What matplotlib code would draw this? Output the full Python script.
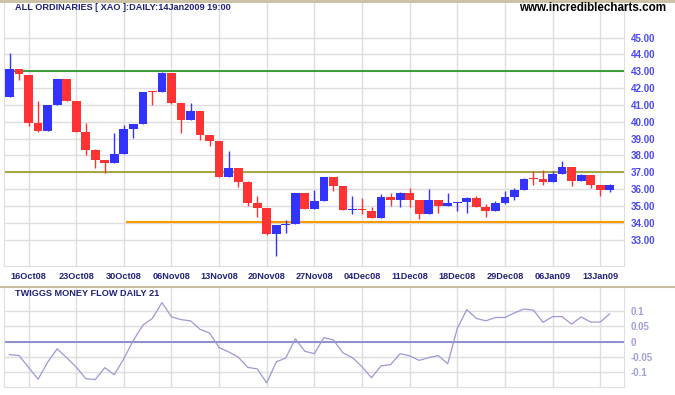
import matplotlib
matplotlib.use("Agg")
import matplotlib.pyplot as plt
import numpy as np
import pandas as pd
from matplotlib.lines import Line2D

# ---------------- data ----------------
holidays = ["2008-12-25", "2008-12-26", "2009-01-01"]
dates = [d for d in pd.bdate_range("2008-10-14", "2009-01-14") if d.strftime("%Y-%m-%d") not in holidays]

opens = [41.49, 43.14, 42.78, 39.93, 39.46, 41.00, 42.55, 41.24, 39.38, 38.31,
         37.73, 37.57, 38.09, 39.58, 39.87, 41.80, 41.76, 42.88, 41.12, 40.13,
         40.64, 39.22, 38.86, 36.74, 37.26, 36.44, 35.18, 34.88, 33.35, 33.88,
         33.95, 35.77, 34.82, 35.30, 36.72, 36.19, 34.74, 34.78, 34.69, 34.30,
         35.53, 35.37, 35.77, 35.36, 34.54, 35.36, 35.02, 35.20, 35.24, 35.48,
         34.94, 34.72, 35.18, 35.53, 35.95, 36.62, 36.60, 36.43, 36.90, 37.32,
         36.49, 36.84, 36.25, 35.95]
highs = [44.09, 43.14, 42.78, 41.24, 41.00, 42.55, 42.55, 41.24, 39.93, 38.38,
         37.73, 39.34, 39.81, 39.87, 41.77, 41.82, 42.98, 42.88, 41.12, 41.12,
         40.64, 39.22, 38.86, 38.27, 37.26, 36.48, 35.59, 34.88, 33.87, 34.17,
         35.77, 35.77, 35.95, 36.72, 36.72, 36.19, 35.59, 35.48, 34.94, 35.71,
         35.77, 35.83, 36.07, 35.36, 36.01, 35.36, 35.77, 35.24, 35.54, 35.59,
         35.12, 35.30, 35.89, 36.07, 36.66, 37.08, 37.14, 37.08, 37.67, 37.32,
         36.90, 36.84, 36.25, 36.31]
lows = [41.45, 42.50, 39.77, 39.40, 39.46, 41.00, 41.24, 39.40, 38.05, 37.28,
        36.98, 37.57, 38.09, 39.06, 39.87, 41.02, 41.76, 41.08, 39.36, 40.13,
        38.92, 38.58, 36.74, 36.74, 36.15, 35.02, 34.36, 33.30, 32.05, 33.41,
        33.95, 34.82, 34.82, 35.30, 35.89, 34.78, 34.51, 34.52, 34.30, 34.30,
        35.02, 34.96, 34.96, 34.25, 34.54, 34.60, 35.02, 34.70, 34.60, 34.96,
        34.36, 34.72, 35.12, 35.36, 35.95, 36.25, 36.25, 36.43, 36.90, 36.19,
        36.49, 36.07, 35.59, 35.84]
closes = [43.14, 42.83, 39.95, 39.46, 41.00, 42.55, 41.24, 39.40, 38.35, 37.73,
          37.57, 38.09, 39.58, 39.87, 41.77, 41.75, 42.88, 41.14, 40.13, 40.64,
          39.24, 38.88, 36.74, 37.26, 36.44, 35.20, 34.90, 33.35, 33.87, 33.93,
          35.77, 34.82, 35.30, 36.72, 36.21, 34.78, 34.77, 34.74, 34.30, 35.53,
          35.37, 35.77, 35.37, 34.54, 35.36, 35.02, 35.18, 35.23, 35.48, 34.96,
          34.72, 35.18, 35.53, 35.95, 36.60, 36.58, 36.43, 36.90, 37.32, 36.49,
          36.84, 36.25, 35.95, 36.25]

tmf = [-0.043, -0.046, -0.085, -0.124, -0.068, -0.024, -0.053, -0.084, -0.122, -0.125,
       -0.086, -0.109, -0.056, 0.004, 0.054, 0.076, 0.128, 0.081, 0.072, 0.068,
       0.040, 0.028, -0.020, -0.034, -0.051, -0.085, -0.090, -0.136, -0.067, -0.054,
       0.009, -0.032, -0.040, 0.013, 0.005, -0.037, -0.053, -0.083, -0.119, -0.080,
       -0.076, -0.040, -0.047, -0.062, -0.053, -0.046, -0.073, 0.043, 0.105, 0.076,
       0.068, 0.079, 0.079, 0.094, 0.107, 0.103, 0.063, 0.082, 0.082, 0.057,
       0.081, 0.064, 0.064, 0.091]

tick_dates = ["2008-10-16", "2008-10-23", "2008-10-30", "2008-11-06", "2008-11-13",
              "2008-11-20", "2008-11-27", "2008-12-04", "2008-12-11", "2008-12-18",
              "2008-12-29", "2009-01-06", "2009-01-13"]
price_ticks = [33, 34, 35, 36, 37, 38, 39, 40, 41, 42, 43, 44, 45]
tmf_ticks = [-0.1, -0.05, 0, 0.05, 0.1]
tmf_labels = ["-0.1", "-0.05", "0", "0.05", "0.1"]

green_level = 43.0
olive_level = 37.0
orange_level = 34.03
orange_start = "2008-10-30"

# ---------------- figure ----------------
W, H = 675, 395
fig = plt.figure(figsize=(W / 100, H / 100), dpi=100)
fig.patch.set_facecolor("white")

def fx(px):
    return px / W

def fy(py):
    return 1 - py / H

FONT = ["Liberation Sans", "DejaVu Sans"]
GRID = "#dedede"
date_str = [d.strftime("%Y-%m-%d") for d in dates]
x = np.arange(len(dates))
tick_idx = [date_str.index(t) for t in tick_dates]
tick_lbl = [dates[i].strftime("%d%b%y") for i in tick_idx]

ax = fig.add_axes([fx(4), fy(266), fx(624) - fx(4), fy(2) - fy(266)])
ax2 = fig.add_axes([fx(4), fy(387), fx(624) - fx(4), fy(288) - fy(387)])

xlim = (-0.58, 64.5)

for a in (ax, ax2):
    a.set_xlim(*xlim)
    a.set_xticks(tick_idx)
    a.grid(True, color=GRID, lw=1)
    a.set_axisbelow(True)
    for s in ("left", "right", "bottom"):
        a.spines[s].set_color(GRID)
    a.spines["top"].set_visible(False)
    a.yaxis.tick_right()
    a.tick_params(length=0)

# candles
o = np.array(opens); c = np.array(closes); h = np.array(highs); l = np.array(lows)
up = c >= o
colors = np.where(up, "#3333ff", "#ff3333")
body_bot = np.minimum(o, c)
body_h = np.maximum(np.abs(c - o), 0.06)
ax.vlines(x, l, h, colors=colors, lw=1, zorder=3)
ax.bar(x, body_h, bottom=body_bot, width=0.92, color=colors, linewidth=0, zorder=4)

ax.axhline(green_level, color="#1a8f1a", lw=1.2, zorder=2)
ax.axhline(olive_level, color="#999922", lw=1.2, zorder=2)
ax.hlines(orange_level, date_str.index(orange_start) + 0.26, xlim[1], color="#ff9900", lw=1.5, zorder=2)

ax.set_ylim(31.43, 47.12)
ax.set_yticks(price_ticks)
ax.set_yticklabels([f"{v:.2f}" for v in price_ticks], fontfamily=FONT, fontsize=7,
                   fontweight="bold", color="#4a4af0")
ax.tick_params(axis="y", pad=5)
ax.set_xticklabels(tick_lbl, fontfamily=FONT, fontsize=6.6, fontweight="bold", color="#22227a")
ax.tick_params(axis="x", pad=4)

# indicator
ax2.plot(x, tmf, color="#9a9ad6", lw=0.9, zorder=3)
ax2.axhline(0, color="#8888cc", lw=1.3, zorder=2)
ax2.set_ylim(-0.1495, 0.176)
ax2.set_yticks(tmf_ticks)
ax2.set_yticklabels(tmf_labels, fontfamily=FONT, fontsize=7, fontweight="bold", color="#a0a0d8")
ax2.tick_params(axis="y", pad=5)
ax2.set_xticklabels([])

# separators
fig.add_artist(Line2D([0, 1], [fy(1), fy(1)], color="#c8c0a0", lw=2))
fig.add_artist(Line2D([0, 1], [fy(287), fy(287)], color="#c8c0a0", lw=1.5))

fig.text(fx(15), fy(7), "ALL ORDINARIES [ XAO ]:DAILY:14Jan2009 19:00", fontfamily=FONT,
         fontsize=6.6, fontweight="bold", color="#22227a", va="center", ha="left")
fig.text(fx(666), fy(8), "www.incrediblecharts.com", fontfamily=FONT,
         fontsize=8.4, fontweight="bold", color="black", va="center", ha="right")
fig.text(fx(15), fy(294), "TWIGGS MONEY FLOW DAILY 21", fontfamily=FONT,
         fontsize=6.6, fontweight="bold", color="#22227a", va="center", ha="left")

fig.savefig("out.png", dpi=100)
